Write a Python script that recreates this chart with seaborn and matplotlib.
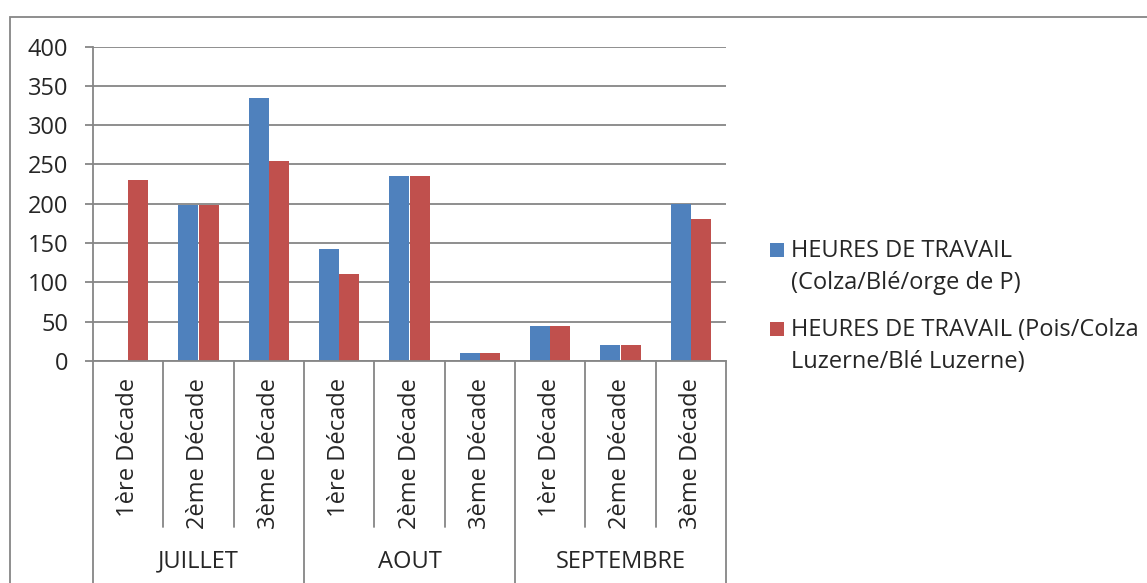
import matplotlib
matplotlib.use("Agg")
import matplotlib.pyplot as plt
import matplotlib.transforms as mtransforms
from matplotlib.patches import Rectangle
import pandas as pd
import seaborn as sns


# =========================================================
# DATA
# =========================================================
months = ["JUILLET", "AOUT", "SEPTEMBRE"]
decades = ["1ère Décade", "2ème Décade", "3ème Décade"]

series_names = [
    "HEURES DE TRAVAIL\n(Colza/Blé/orge de P)",
    "HEURES DE TRAVAIL (Pois/Colza\nLuzerne/Blé Luzerne)",
]

colza_ble_orge = [0, 198, 335, 142, 235, 10, 45, 20, 200]
pois_colza_luzerne = [230, 198, 255, 111, 235, 10, 45, 20, 180]

y_ticks = [0, 50, 100, 150, 200, 250, 300, 350, 400]

BLUE = "#4F81BD"
RED = "#C0504D"
GRID = "#868686"
FONT = ["Open Sans", "DejaVu Sans"]
FS = 17


# =========================================================
# BUILD LONG TABLE
# =========================================================
categories = [f"{m}|{d}" for m in months for d in decades]

rows = []
for name, values in zip(series_names, [colza_ble_orge, pois_colza_luzerne]):
    for cat, v in zip(categories, values):
        rows.append({"cat": cat, "heures": v, "serie": name})
df = pd.DataFrame(rows)


# =========================================================
# PLOT
# =========================================================
sns.set_theme(style="white")
plt.rcParams["font.family"] = FONT

fig = plt.figure(figsize=(11.47, 5.83), dpi=100)
W, H = 1147, 583
ax_left, ax_right, ax_top, ax_bot = 93, 726, 46.5, 361
ax = fig.add_axes([ax_left / W, 1 - ax_bot / H,
                   (ax_right - ax_left) / W, (ax_bot - ax_top) / H])

sns.barplot(
    data=df, x="cat", y="heures", hue="serie",
    order=categories, hue_order=series_names,
    palette=[BLUE, RED], saturation=1, width=0.57, gap=0,
    linewidth=0, errorbar=None, legend=False, ax=ax,
)

ax.set_ylim(0, 400)
ax.set_xlim(-0.5, len(categories) - 0.5)
ax.set_yticks(y_ticks)
ax.set_xlabel("")
ax.set_ylabel("")

# gridlines
ax.grid(axis="y", color=GRID, linewidth=1.3)
ax.set_axisbelow(True)

for s in ["top", "right"]:
    ax.spines[s].set_visible(False)
for s in ["left", "bottom"]:
    ax.spines[s].set_color(GRID)
    ax.spines[s].set_linewidth(1.3)

ax.tick_params(axis="y", direction="out", length=5.8, width=1.3,
               color=GRID, pad=12, labelsize=FS, left=True)
for lbl in ax.get_yticklabels():
    lbl.set_fontfamily(FONT)

# decade labels (first level of category axis)
ax.set_xticks(range(len(categories)))
ax.set_xticklabels([d for m in months for d in decades],
                   rotation=90, fontsize=FS, fontfamily=FONT, va="top")
ax.tick_params(axis="x", length=0, pad=12)

# separators of the multi-level axis
trans = mtransforms.blended_transform_factory(ax.transData, ax.transAxes)
n_dec = len(decades)
for i in range(len(categories) + 1):
    xb = i - 0.5
    y_end = -0.72 if i % n_dec == 0 else -0.527
    ax.plot([xb, xb], [0, y_end], color=GRID, linewidth=1.3,
            transform=trans, clip_on=False)

# month labels (second level)
for j, m in enumerate(months):
    mid = j * n_dec + (n_dec - 1) / 2
    ax.text(mid, -0.638, m, transform=trans, ha="center", va="center",
            fontsize=FS, fontfamily=FONT)

# =========================================================
# LEGEND (drawn by hand so that the square sits on line one)
# =========================================================
leg_entries = [
    (BLUE, series_names[0], 257),
    (RED, series_names[1], 336),
]
for color, label, base in leg_entries:
    fig.patches.append(Rectangle(((770) / W, 1 - base / H), 14 / W, 14 / H,
                                 transform=fig.transFigure,
                                 facecolor=color, edgecolor="none"))
    for k, line in enumerate(label.split("\n")):
        fig.text(791 / W, 1 - (base + k * 32.5) / H, line,
                 ha="left", va="baseline", fontsize=FS, fontfamily=FONT)

# outer chart frame
fig.patches.append(Rectangle((10 / W, -0.1), 1.2, 1.1 - 17.5 / H,
                             transform=fig.transFigure, fill=False,
                             edgecolor=GRID, linewidth=1.3))

fig.savefig("out.png", dpi=100)
plt.close(fig)
